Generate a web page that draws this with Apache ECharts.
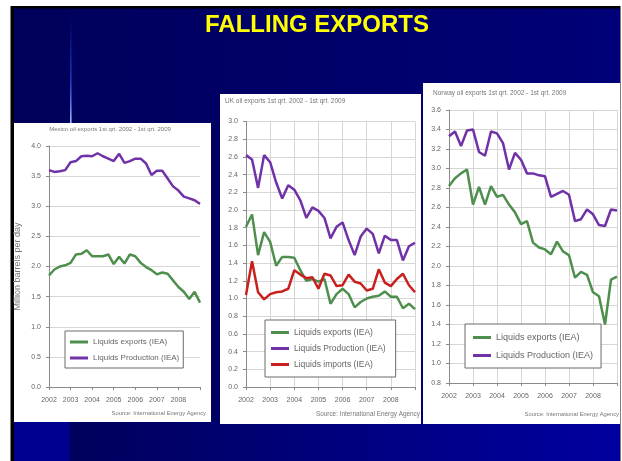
<!DOCTYPE html>
<html><head><meta charset="utf-8">
<script src="https://cdn.jsdelivr.net/npm/echarts@6/dist/echarts.min.js"></script>
<style>html,body{margin:0;padding:0;background:#fff;}#c{width:622px;height:461px;}</style>
</head><body><div id="c"></div>
<script>
const quarters = ['2002 Q1','2002 Q2','2002 Q3','2002 Q4','2003 Q1','2003 Q2','2003 Q3','2003 Q4',
  '2004 Q1','2004 Q2','2004 Q3','2004 Q4','2005 Q1','2005 Q2','2005 Q3','2005 Q4',
  '2006 Q1','2006 Q2','2006 Q3','2006 Q4','2007 Q1','2007 Q2','2007 Q3','2007 Q4',
  '2008 Q1','2008 Q2','2008 Q3','2008 Q4','2009 Q1'];

const mexicoExports = [1.85,1.95,2.00,2.02,2.06,2.20,2.21,2.27,2.17,2.17,2.17,2.20,2.04,2.16,2.05,2.20,2.17,2.06,1.99,1.94,1.87,1.90,1.88,1.77,1.66,1.58,1.46,1.58,1.40];
const mexicoProduction = [3.60,3.57,3.58,3.60,3.73,3.75,3.83,3.84,3.83,3.88,3.83,3.79,3.75,3.87,3.72,3.75,3.79,3.79,3.71,3.52,3.59,3.59,3.46,3.33,3.26,3.16,3.13,3.10,3.04];

const ukExports = [1.81,1.95,1.49,1.75,1.64,1.37,1.47,1.47,1.46,1.32,1.20,1.22,1.19,1.22,0.94,1.05,1.11,1.05,0.90,0.96,1.00,1.02,1.03,1.08,1.02,1.02,0.89,0.94,0.88];
const ukProduction = [2.62,2.57,2.25,2.62,2.54,2.31,2.13,2.28,2.23,2.11,1.91,2.03,1.99,1.91,1.68,1.81,1.86,1.66,1.49,1.70,1.79,1.73,1.51,1.71,1.66,1.66,1.43,1.59,1.63];
const ukImports = [1.04,1.42,1.07,0.99,1.05,1.07,1.08,1.11,1.32,1.27,1.23,1.24,1.11,1.28,1.26,1.14,1.15,1.27,1.19,1.17,1.09,1.11,1.33,1.18,1.14,1.22,1.28,1.15,1.07];

const norwayExports = [2.82,2.90,2.95,2.99,2.63,2.81,2.63,2.82,2.71,2.73,2.63,2.55,2.43,2.46,2.24,2.19,2.17,2.12,2.25,2.15,2.11,1.88,1.94,1.91,1.73,1.69,1.40,1.86,1.89];
const norwayProduction = [3.33,3.38,3.23,3.39,3.40,3.17,3.13,3.38,3.36,3.26,2.99,3.16,3.09,2.95,2.95,2.93,2.92,2.71,2.74,2.77,2.73,2.46,2.48,2.58,2.53,2.42,2.41,2.58,2.57];

const nameExports = 'Liquids exports (IEA)';
const nameProduction = 'Liquids Production (IEA)';
const nameImports = 'Liquids imports (IEA)';
const mainTitle = 'FALLING EXPORTS';
const panelTitles = ['Mexico oil exports 1st qrt. 2002 - 1st qrt. 2009',
  'UK oil exports 1st qrt. 2002 - 1st qrt. 2009',
  'Norway oil exports 1st qrt. 2002 - 1st qrt. 2009'];
const sourceText = 'Source: International Energy Agency';
const yAxisName = 'Million barrels per day';

const FONT = '"Liberation Sans", Arial, sans-serif';
const GREEN = '#4e8f4e', PURPLE = '#7032a6', RED = '#c8201c';
const GRIDC = '#d6d6d6', AXC = '#8a8a8a', TXT = '#666';

const isYear = (i) => i % 4 === 0;
const isYearLabel = (i) => i % 4 === 0 && i < 28;

function xAx(g, vgrid) {
  return {
    type: 'category', gridIndex: g, data: quarters, boundaryGap: false,
    axisLine: { lineStyle: { color: AXC } },
    axisTick: { show: true, interval: isYear, length: 3, lineStyle: { color: AXC } },
    axisLabel: { interval: isYearLabel, formatter: v => v.slice(0, 4), fontSize: 7, color: TXT, margin: 10, fontFamily: FONT },
    splitLine: { show: vgrid, interval: isYear, lineStyle: { color: GRIDC } }
  };
}
function yAx(g, min, max, interval, extra) {
  return Object.assign({
    type: 'value', gridIndex: g, min: min, max: max, interval: interval,
    axisLine: { show: true, lineStyle: { color: AXC } },
    axisTick: { show: true, length: 3, lineStyle: { color: AXC } },
    axisLabel: { formatter: v => v.toFixed(1), fontSize: 7, color: TXT, margin: 8, fontFamily: FONT },
    splitLine: { show: true, lineStyle: { color: GRIDC } }
  }, extra || {});
}
function line(name, data, color, g) {
  return { type: 'line', name: name, data: data, xAxisIndex: g, yAxisIndex: g,
    showSymbol: false, symbol: 'none', smooth: false,
    lineStyle: { color: color, width: 2.5 }, itemStyle: { color: color }, z: 5 };
}
function legend(names, left, top, fs, gap, pad) {
  return { data: names, orient: 'vertical', left: left, top: top, icon: 'rect',
    itemWidth: 18, itemHeight: 3, itemGap: gap, padding: pad, selectedMode: false,
    backgroundColor: '#fff', borderColor: '#6a6a6a', borderWidth: 1,
    textStyle: { fontSize: fs, color: TXT, fontFamily: FONT } };
}
function txt(text, x, y, size, align, extra) {
  return Object.assign({ type: 'text', x: x, y: y, z: 100, silent: true,
    style: { text: text, fill: '#777', font: size + 'px ' + FONT, textAlign: align, textVerticalAlign: 'middle' } }, extra || {});
}

const chart = echarts.init(document.getElementById('c'), null, { renderer: 'canvas' });
chart.setOption({
  animation: false,
  backgroundColor: '#fff',
  graphic: [
    { type: 'rect', z: -10, silent: true, shape: { x: 10.5, y: 6, width: 610, height: 455 }, style: { fill: '#000' } },
    { type: 'rect', z: -9, silent: true, shape: { x: 14, y: 8.5, width: 606, height: 453 },
      style: { fill: { type: 'linear', x: 0, y: 0, x2: 1, y2: 0, colorStops: [{ offset: 0, color: '#00005a' }, { offset: 1, color: '#000078' }] } } },
    { type: 'rect', z: -8, silent: true, shape: { x: 70, y: 422, width: 550, height: 39 },
      style: { fill: { type: 'linear', x: 0, y: 0, x2: 1, y2: 0, colorStops: [{ offset: 0, color: '#00005c' }, { offset: 1, color: '#0000a0' }] } } },
    { type: 'rect', z: -8, silent: true, shape: { x: 14, y: 422, width: 56, height: 39 }, style: { fill: '#00008e' } },
    { type: 'rect', z: -8, silent: true, shape: { x: 70, y: 18, width: 1.6, height: 105 },
      style: { fill: { type: 'linear', x: 0, y: 0, x2: 0, y2: 1, colorStops: [{ offset: 0, color: 'rgba(40,90,255,0)' }, { offset: 0.6, color: 'rgba(40,100,255,0.6)' }, { offset: 1, color: '#9cc4ff' }] } } },
    { type: 'rect', z: -7, silent: true, shape: { x: 14, y: 123, width: 197, height: 299 }, style: { fill: '#fff' } },
    { type: 'rect', z: -7, silent: true, shape: { x: 220, y: 94, width: 201, height: 330 }, style: { fill: '#fff' } },
    { type: 'rect', z: -7, silent: true, shape: { x: 423, y: 83, width: 197, height: 341 }, style: { fill: '#fff' } },
    { type: 'text', x: 317, y: 25, z: 100, silent: true,
      style: { text: mainTitle, fill: '#ffff00', font: 'bold 24px ' + FONT, textAlign: 'center', textVerticalAlign: 'middle' } },
    txt(panelTitles[0], 110, 129.5, 6, 'center'),
    txt(panelTitles[1], 225, 101.5, 6.5, 'left'),
    txt(panelTitles[2], 433, 93, 6.5, 'left'),
    txt(sourceText, 206, 413, 5.8, 'right'),
    txt(sourceText, 420, 414.5, 6.4, 'right'),
    txt(sourceText, 619, 414, 5.8, 'right')
  ],
  grid: [
    { left: 49, top: 146, width: 151, height: 241 },
    { left: 246, top: 121.5, width: 169, height: 265.5 },
    { left: 449, top: 110, width: 168, height: 273 }
  ],
  xAxis: [xAx(0, false), xAx(1, true), xAx(2, true)],
  yAxis: [
    yAx(0, 0, 4, 0.5, { name: yAxisName, nameLocation: 'middle', nameGap: 27, nameRotate: 90,
      nameTextStyle: { fontSize: 9, color: '#777', fontFamily: FONT } }),
    yAx(1, 0, 3, 0.2),
    yAx(2, 0.8, 3.6, 0.2)
  ],
  legend: [
    legend([nameExports, nameProduction], 65, 331, 8, 8, [7, 4, 6, 5]),
    legend([nameExports, nameProduction, nameImports], 265, 320, 8.5, 7, [8, 10, 8, 6]),
    legend([nameExports, nameProduction], 465, 324, 9, 9, [9, 8, 8, 8])
  ],
  series: [
    line(nameExports, mexicoExports, GREEN, 0),
    line(nameProduction, mexicoProduction, PURPLE, 0),
    line(nameExports, ukExports, GREEN, 1),
    line(nameProduction, ukProduction, PURPLE, 1),
    line(nameImports, ukImports, RED, 1),
    line(nameExports, norwayExports, GREEN, 2),
    line(nameProduction, norwayProduction, PURPLE, 2)
  ]
});
</script></body></html>
